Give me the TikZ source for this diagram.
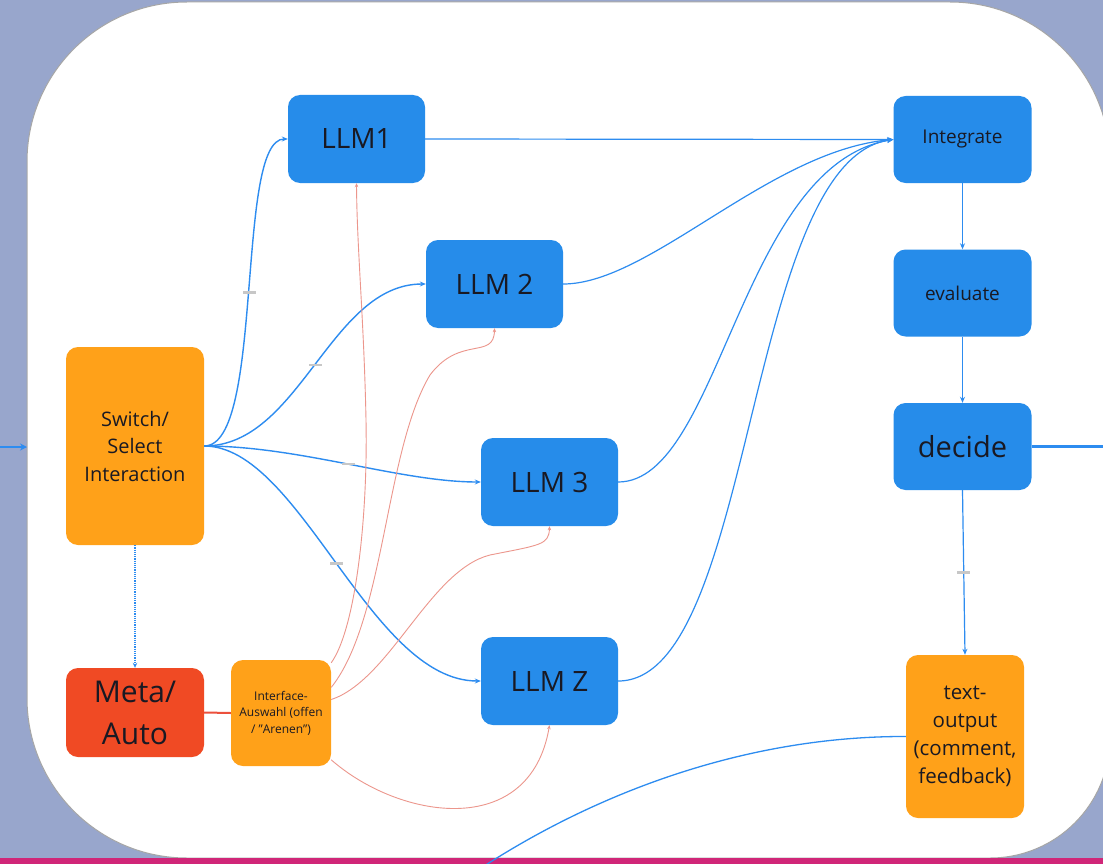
\documentclass[tikz,border=0pt]{standalone}
\usepackage{fontspec}
\setmainfont{Open Sans}
\usetikzlibrary{arrows.meta}
\definecolor{bgslate}{RGB}{152,166,204}
\definecolor{boxblue}{RGB}{38,140,234}
\definecolor{boxorange}{RGB}{255,161,25}
\definecolor{boxred}{RGB}{240,74,36}
\definecolor{lineblue}{RGB}{45,140,240}
\definecolor{linesalmon}{RGB}{236,150,140}
\definecolor{linkred}{RGB}{236,80,60}
\definecolor{barmagenta}{RGB}{208,38,120}
\definecolor{txt}{RGB}{25,25,35}
\begin{document}
\begin{tikzpicture}[x=1pt,y=-1pt,
  box/.style={rounded corners=12pt, inner sep=0pt, align=center, text=txt},
  llm/.style={box, fill=boxblue, minimum width=137pt, minimum height=88pt,
    font=\fontsize{28}{34}\selectfont},
  stage/.style={box, fill=boxblue, minimum width=138pt, minimum height=87pt,
    font=\fontsize{19}{26}\selectfont},
  flow/.style={lineblue, line width=1.4pt, -{Stealth[length=6pt,width=5pt]}},
  feed/.style={linesalmon, line width=0.9pt, -{Stealth[length=4pt,width=3.5pt]}},
  tick/.style={fill=black!22, minimum width=13pt, minimum height=2.5pt,
    inner sep=0pt}
]
\useasboundingbox (0,0) rectangle (1103,864);
\clip (0,0) rectangle (1103,864);

% backdrop: slate frame, white rounded canvas, magenta strip
\fill[bgslate] (0,0) rectangle (1103,864);
\fill[white, draw=black!35, line width=1pt]
  (187,2) -- (950,2)
  .. controls (1038.4,2) and (1110,73.6) .. (1110,162)
  -- (1110,738)
  .. controls (1110,804.3) and (1056.3,858) .. (990,858)
  -- (187,858)
  .. controls (98.6,858) and (27,786.4) .. (27,698)
  -- (27,162)
  .. controls (27,73.6) and (98.6,2) .. cycle;
\fill[barmagenta] (0,858) rectangle (1103,864);

% nodes
\node[box, fill=boxorange, minimum width=138pt, minimum height=198pt,
  font=\fontsize{20}{27.5}\selectfont] (sw) at (135,446)
  {Switch/\\Select\\Interaction};
\node[box, fill=boxred, minimum width=138pt, minimum height=89pt,
  font=\fontsize{30}{42}\selectfont] (meta) at (135,712.5) {Meta/\\Auto};
\node[box, fill=boxorange, minimum width=100pt, minimum height=106pt,
  font=\fontsize{12}{16.5}\selectfont] (iface) at (281,713)
  {Interface-\\Auswahl (offen\\/ "Arenen")};

\node[llm] (l1) at (356.5,139) {LLM1};
\node[llm] (l2) at (494.5,284) {LLM 2};
\node[llm] (l3) at (549.5,482) {LLM 3};
\node[llm] (lz) at (549.5,681) {LLM Z};

\node[stage] (int) at (962.5,139.5) {Integrate};
\node[stage] (ev) at (962.5,293) {evaluate};
\node[stage, font=\fontsize{29}{34}\selectfont] (dec) at (962.5,446.5) {decide};
\node[box, fill=boxorange, minimum width=118pt, minimum height=163pt,
  font=\fontsize{20.5}{28}\selectfont] (out) at (965,736.5)
  {text-\\output\\(comment,\\feedback)};

% free ends
\coordinate (lin) at (-5,447);
\coordinate (lend) at (27,447);
\coordinate (rexit) at (1112,446.5);
\coordinate (bexit) at (478,870);

% incoming and outgoing lines
\draw[lineblue, line width=2pt, -{Stealth[length=7pt,width=7pt]}] (lin) -- (lend);
\draw[lineblue, line width=3pt] (dec.east) -- (rexit);
\draw[lineblue, line width=1.3pt] (out.west) .. controls (750,736) and (600,790) .. (bexit);

% switch fans out to the models
\draw[flow] (sw.east) .. controls (265,446) and (235,139) .. node[tick]{} (l1.west);
\draw[flow] (sw.east) .. controls (300,446) and (330,284) .. node[tick]{} (l2.west);
\draw[flow] (sw.east) .. controls (300,446) and (400,482) .. node[tick]{} (l3.west);
\draw[flow] (sw.east) .. controls (300,446) and (370,681) .. node[tick]{} (lz.west);

% mode selection
\draw[lineblue, line width=1.2pt, densely dotted, -{Stealth[length=5pt,width=4.5pt]}]
  (sw.south) -- (meta.north);
\draw[linkred, line width=2pt] (meta.east) -- (iface.west);

% interface choice feeds each model
\draw[feed] (iface.45) .. controls (355,630) and (368,520) .. (366,420)
  .. controls (364,320) and (357,250) .. (l1.south);
\draw[feed] (iface.27) .. controls (385,620) and (385,450) .. (430,375)
  .. controls (460,335) and (494,360) .. (l2.south);
\draw[feed] (iface.15) .. controls (390,680) and (430,570) .. (490,555)
  .. controls (540,545) and (549,545) .. (l3.south);
\draw[feed] (iface.-43) .. controls (400,820) and (530,840) .. (lz.south);

% models merge into the integration step
\draw[flow, line width=1.2pt] (l1.east) -- (int.west);
\draw[flow, line width=1.2pt] (l2.east) .. controls (650,284) and (770,150) .. (int.west);
\draw[flow, line width=1.2pt] (l3.east) .. controls (720,482) and (740,165) .. (int.west);
\draw[flow, line width=1.2pt] (lz.east) .. controls (755,681) and (745,160) .. (int.west);

% decision chain
\draw[flow, line width=1.2pt] (int.south) -- (ev.north);
\draw[flow, line width=1.2pt] (ev.south) -- (dec.north);
\draw[flow, line width=1.2pt] (dec.south) -- node[tick, pos=0.5]{} (out.north);
\end{tikzpicture}
\end{document}
